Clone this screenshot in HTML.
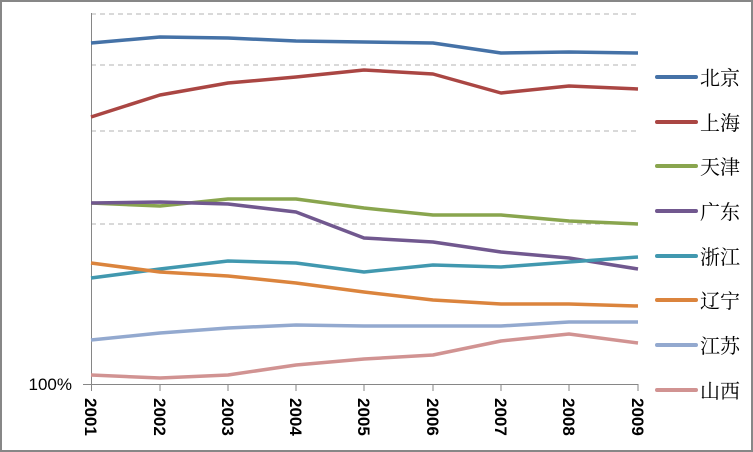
<!DOCTYPE html>
<html><head><meta charset="utf-8"><style>
html,body{margin:0;padding:0;background:#fff}
svg{display:block}
</style></head><body>
<svg width="753" height="452" viewBox="0 0 753 452" xmlns="http://www.w3.org/2000/svg">
<rect x="1" y="1" width="751" height="450" fill="#fff" stroke="#878787" stroke-width="2"/>
<g stroke="#b3b3b3" stroke-width="1" stroke-dasharray="5,4">
<line x1="91" y1="14" x2="638" y2="14"/>
<line x1="91" y1="65" x2="638" y2="65"/>
<line x1="91" y1="131" x2="638" y2="131"/>
<line x1="91" y1="224" x2="638" y2="224"/>
</g>
<g stroke="#868686" stroke-width="1">
<line x1="91.5" y1="13" x2="91.5" y2="384"/>
<line x1="83" y1="384.5" x2="638" y2="384.5"/>
<line x1="91.5" y1="384" x2="91.5" y2="391"/>
<line x1="160" y1="384" x2="160" y2="391"/>
<line x1="228" y1="384" x2="228" y2="391"/>
<line x1="296" y1="384" x2="296" y2="391"/>
<line x1="364" y1="384" x2="364" y2="391"/>
<line x1="433" y1="384" x2="433" y2="391"/>
<line x1="501" y1="384" x2="501" y2="391"/>
<line x1="569" y1="384" x2="569" y2="391"/>
<line x1="638" y1="384" x2="638" y2="391"/>
</g>
<text x="72" y="390" text-anchor="end" font-family="Liberation Sans, sans-serif" font-size="17" fill="#000">100%</text>
<g font-family="Liberation Sans, sans-serif" font-size="17" font-weight="bold" fill="#000">
<text transform="translate(85,398) rotate(90)">2001</text>
<text transform="translate(154,398) rotate(90)">2002</text>
<text transform="translate(222,398) rotate(90)">2003</text>
<text transform="translate(290,398) rotate(90)">2004</text>
<text transform="translate(358,398) rotate(90)">2005</text>
<text transform="translate(427,398) rotate(90)">2006</text>
<text transform="translate(495,398) rotate(90)">2007</text>
<text transform="translate(563,398) rotate(90)">2008</text>
<text transform="translate(632,398) rotate(90)">2009</text>
</g>
<g fill="none" stroke-width="3.5" stroke-linejoin="round">
<polyline stroke="#4572A7" points="91,43 160,37 228,38 296,41 364,42 433,43 501,53 569,52 638,53"/>
<polyline stroke="#AA4643" points="91,117 160,95 228,83 296,77 364,70 433,74 501,93 569,86 638,89"/>
<polyline stroke="#89A54E" points="91,203 160,206 228,199 296,199 364,208 433,215 501,215 569,221 638,224"/>
<polyline stroke="#71588F" points="91,203 160,202 228,204 296,212 364,238 433,242 501,252 569,258 638,269"/>
<polyline stroke="#4198AF" points="91,278 160,269 228,261 296,263 364,272 433,265 501,267 569,262 638,257"/>
<polyline stroke="#DB843D" points="91,263 160,272 228,276 296,283 364,292 433,300 501,304 569,304 638,306"/>
<polyline stroke="#93A9CF" points="91,340 160,333 228,328 296,325 364,326 433,326 501,326 569,322 638,322"/>
<polyline stroke="#D19392" points="91,375 160,378 228,375 296,365 364,359 433,355 501,341 569,334 638,343"/>
</g>
<g stroke-width="4" stroke-linecap="round">
<line x1="657" y1="77" x2="696" y2="77" stroke="#4572A7"/>
<line x1="657" y1="122" x2="696" y2="122" stroke="#AA4643"/>
<line x1="657" y1="166" x2="696" y2="166" stroke="#89A54E"/>
<line x1="657" y1="211" x2="696" y2="211" stroke="#71588F"/>
<line x1="657" y1="256" x2="696" y2="256" stroke="#4198AF"/>
<line x1="657" y1="300" x2="696" y2="300" stroke="#DB843D"/>
<line x1="657" y1="345" x2="696" y2="345" stroke="#93A9CF"/>
<line x1="657" y1="390" x2="696" y2="390" stroke="#D19392"/>
</g>
<g font-family="'Noto Serif CJK SC', serif" font-size="20" fill="#000">
<text x="700" y="85">北京</text>
<text x="700" y="130">上海</text>
<text x="700" y="174">天津</text>
<text x="700" y="219">广东</text>
<text x="700" y="264">浙江</text>
<text x="700" y="308">辽宁</text>
<text x="700" y="353">江苏</text>
<text x="700" y="398">山西</text>
</g>
</svg>
</body></html>
